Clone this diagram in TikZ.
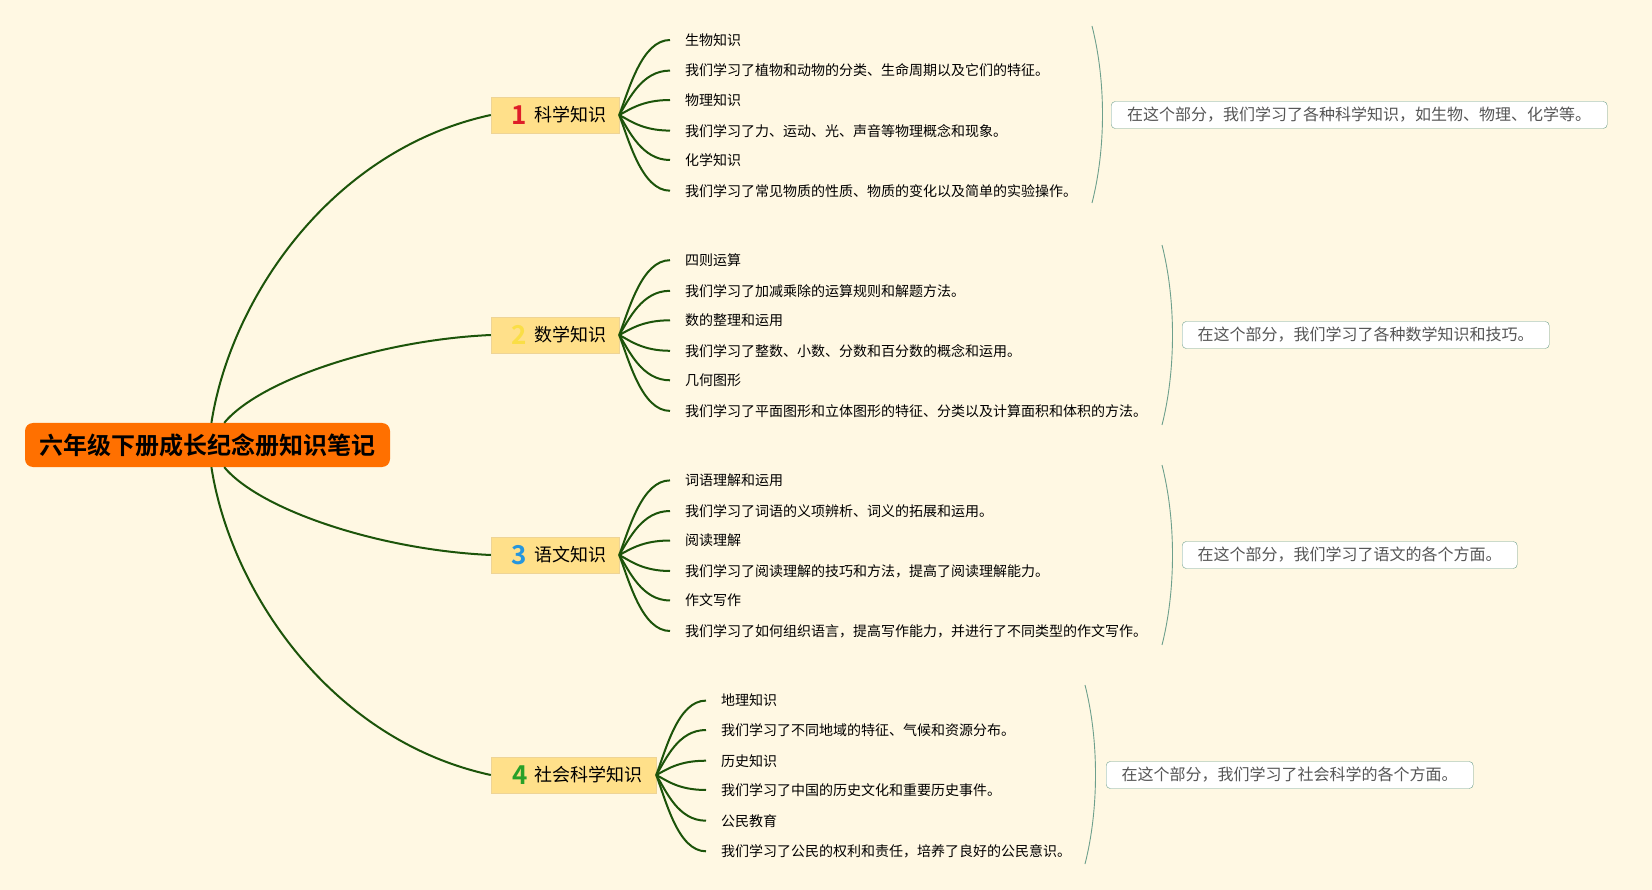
\documentclass[tikz,border=0pt]{standalone}
\usepackage{fontspec}
\setmainfont{Noto Sans CJK SC}[BoldFont={Noto Sans CJK SC Bold}]
\usetikzlibrary{positioning}

\definecolor{paper}{RGB}{255,248,227}
\definecolor{rootorange}{RGB}{255,112,0}
\definecolor{branchfill}{RGB}{255,224,138}
\definecolor{branchline}{RGB}{238,212,150}
\definecolor{linegreen}{RGB}{28,84,10}
\definecolor{bracegreen}{RGB}{110,160,140}
\definecolor{notegray}{RGB}{85,85,85}
\definecolor{numred}{RGB}{222,30,40}
\definecolor{numyellow}{RGB}{250,222,70}
\definecolor{numblue}{RGB}{38,150,222}
\definecolor{numgreen}{RGB}{40,160,40}

\tikzset{
rootbox/.style={fill=rootorange,rounded corners=8pt,minimum width=365pt,minimum height=44pt,inner sep=0pt,font=\fontsize{24}{28}\selectfont\bfseries},
branchbox/.style={draw=branchline,fill=branchfill,minimum height=36pt,inner sep=0pt,font=\fontsize{18}{22}\selectfont},
leaf/.style={anchor=west,inner xsep=15pt,inner ysep=2pt,font=\fontsize{14}{17}\selectfont},
note/.style={draw=bracegreen,fill=white,rounded corners=4pt,text=notegray,minimum height=27pt,inner sep=0pt,anchor=west,font=\fontsize{16}{18}\selectfont},
mainline/.style={draw=linegreen,line width=2pt},
leafline/.style={draw=linegreen,line width=2pt},
brace/.style={draw=bracegreen,line width=0.9pt}
}
\newcommand{\num}[2]{\hspace{8pt}\smash{\raisebox{-2.5pt}{\fontsize{26}{26}\selectfont\bfseries\textcolor{#1}{#2}}}\hspace{7pt}}

\begin{document}
\begin{tikzpicture}[x=1pt,y=-1pt]
\fill[paper] (0,0) rectangle (1652,890);

% root and main topics
\node[rootbox] (root) at (207.5,445) {六年级下册成长纪念册知识笔记};
\node[branchbox,minimum width=128pt] (b1) at (555,115) {\num{numred}{1}科学知识};
\node[branchbox,minimum width=128pt] (b2) at (555,335) {\num{numyellow}{2}数学知识};
\node[branchbox,minimum width=128pt] (b3) at (555,555) {\num{numblue}{3}语文知识};
\node[branchbox,minimum width=165pt] (b4) at (573.5,775) {\num{numgreen}{4}社会科学知识};

\draw[mainline] (root.80) .. controls +(19,-123) and +(-161,35) .. (b1.west);
\draw[mainline] (root.53) .. controls +(36,-43) and +(-111,5) .. (b2.west);
\draw[mainline] (root.-53) .. controls +(36,43) and +(-111,-5) .. (b3.west);
\draw[mainline] (root.-80) .. controls +(19,123) and +(-161,-35) .. (b4.west);

% science
\node[leaf] (l11) at (670,40) {生物知识};
\node[leaf] (l12) at (670,70.6) {我们学习了植物和动物的分类、生命周期以及它们的特征。};
\node[leaf] (l13) at (670,100) {物理知识};
\node[leaf] (l14) at (670,130.6) {我们学习了力、运动、光、声音等物理概念和现象。};
\node[leaf] (l15) at (670,160) {化学知识};
\node[leaf] (l16) at (670,190.7) {我们学习了常见物质的性质、物质的变化以及简单的实验操作。};
\draw[leafline] (b1.east) .. controls +(10,-26) and +(-28,0) .. (l11.west);
\draw[leafline] (b1.east) .. controls +(10,-16) and +(-28,0) .. (l12.west);
\draw[leafline] (b1.east) .. controls +(10,-5) and +(-28,0) .. (l13.west);
\draw[leafline] (b1.east) .. controls +(10,5) and +(-28,0) .. (l14.west);
\draw[leafline] (b1.east) .. controls +(10,16) and +(-28,0) .. (l15.west);
\draw[leafline] (b1.east) .. controls +(10,26) and +(-28,0) .. (l16.west);

% maths
\node[leaf] (l21) at (670,260.2) {四则运算};
\node[leaf] (l22) at (670,290.8) {我们学习了加减乘除的运算规则和解题方法。};
\node[leaf] (l23) at (670,320.3) {数的整理和运用};
\node[leaf] (l24) at (670,350.8) {我们学习了整数、小数、分数和百分数的概念和运用。};
\node[leaf] (l25) at (670,380.3) {几何图形};
\node[leaf] (l26) at (670,410.9) {我们学习了平面图形和立体图形的特征、分类以及计算面积和体积的方法。};
\draw[leafline] (b2.east) .. controls +(10,-26) and +(-28,0) .. (l21.west);
\draw[leafline] (b2.east) .. controls +(10,-16) and +(-28,0) .. (l22.west);
\draw[leafline] (b2.east) .. controls +(10,-5) and +(-28,0) .. (l23.west);
\draw[leafline] (b2.east) .. controls +(10,5) and +(-28,0) .. (l24.west);
\draw[leafline] (b2.east) .. controls +(10,16) and +(-28,0) .. (l25.west);
\draw[leafline] (b2.east) .. controls +(10,26) and +(-28,0) .. (l26.west);

% chinese
\node[leaf] (l31) at (670,480.4) {词语理解和运用};
\node[leaf] (l32) at (670,511) {我们学习了词语的义项辨析、词义的拓展和运用。};
\node[leaf] (l33) at (670,540.5) {阅读理解};
\node[leaf] (l34) at (670,571) {我们学习了阅读理解的技巧和方法，提高了阅读理解能力。};
\node[leaf] (l35) at (670,600.5) {作文写作};
\node[leaf] (l36) at (670,631) {我们学习了如何组织语言，提高写作能力，并进行了不同类型的作文写作。};
\draw[leafline] (b3.east) .. controls +(10,-26) and +(-28,0) .. (l31.west);
\draw[leafline] (b3.east) .. controls +(10,-16) and +(-28,0) .. (l32.west);
\draw[leafline] (b3.east) .. controls +(10,-5) and +(-28,0) .. (l33.west);
\draw[leafline] (b3.east) .. controls +(10,5) and +(-28,0) .. (l34.west);
\draw[leafline] (b3.east) .. controls +(10,16) and +(-28,0) .. (l35.west);
\draw[leafline] (b3.east) .. controls +(10,26) and +(-28,0) .. (l36.west);

% social science
\node[leaf] (l41) at (706,700.6) {地理知识};
\node[leaf] (l42) at (706,730) {我们学习了不同地域的特征、气候和资源分布。};
\node[leaf] (l43) at (706,760.7) {历史知识};
\node[leaf] (l44) at (706,790) {我们学习了中国的历史文化和重要历史事件。};
\node[leaf] (l45) at (706,820.7) {公民教育};
\node[leaf] (l46) at (706,851.3) {我们学习了公民的权利和责任，培养了良好的公民意识。};
\draw[leafline] (b4.east) .. controls +(10,-26) and +(-28,0) .. (l41.west);
\draw[leafline] (b4.east) .. controls +(10,-16) and +(-28,0) .. (l42.west);
\draw[leafline] (b4.east) .. controls +(10,-5) and +(-28,0) .. (l43.west);
\draw[leafline] (b4.east) .. controls +(10,5) and +(-28,0) .. (l44.west);
\draw[leafline] (b4.east) .. controls +(10,16) and +(-28,0) .. (l45.west);
\draw[leafline] (b4.east) .. controls +(10,26) and +(-28,0) .. (l46.west);

% summaries
\coordinate (s1a) at (1092,26);
\coordinate (s1b) at (1092,203);
\coordinate (s2a) at (1162,245);
\coordinate (s2b) at (1162,425);
\coordinate (s3a) at (1162,465);
\coordinate (s3b) at (1162,645);
\coordinate (s4a) at (1085,685);
\coordinate (s4b) at (1085,864);
\draw[brace] (s1a) .. controls +(14,55) and +(14,-55) .. (s1b);
\draw[brace] (s2a) .. controls +(14,55) and +(14,-55) .. (s2b);
\draw[brace] (s3a) .. controls +(14,55) and +(14,-55) .. (s3b);
\draw[brace] (s4a) .. controls +(14,55) and +(14,-55) .. (s4b);
\node[note,minimum width=496pt] (n1) at (1111,115) {在这个部分，我们学习了各种科学知识，如生物、物理、化学等。};
\node[note,minimum width=367pt] (n2) at (1182,335) {在这个部分，我们学习了各种数学知识和技巧。};
\node[note,minimum width=335pt] (n3) at (1182,555) {在这个部分，我们学习了语文的各个方面。};
\node[note,minimum width=367pt] (n4) at (1106,775) {在这个部分，我们学习了社会科学的各个方面。};
\end{tikzpicture}
\end{document}
